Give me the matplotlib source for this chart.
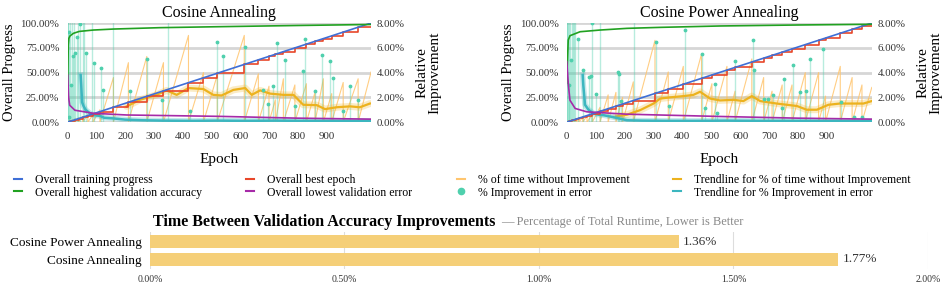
import matplotlib
matplotlib.use("Agg")
import matplotlib.pyplot as plt
from matplotlib.lines import Line2D
from matplotlib.ticker import FuncFormatter

plt.rcParams['font.family'] = ['Liberation Serif', 'DejaVu Serif']

n_epochs = 1055
progress_epochs = [0, n_epochs]
progress_pct = [0, 100]
epoch_ticks = [0, 100, 200, 300, 400, 500, 600, 700, 800, 900]

# ---- Cosine Annealing ----
ca_best_epochs = [0, 4, 9, 16, 26, 38, 52, 70, 88, 112, 159, 211, 275, 333, 420,
                  472, 520, 614, 663, 700, 722, 750, 790, 830, 860, 889, 918, 958, 1010]
ca_gap_peaks = [0.1, 0.15, 0.2, 0.3, 0.35, 0.45, 0.6, 0.6, 1.0, 3.6, 4.8, 5.3, 4.8, 7.0,
                4.0, 3.8, 7.0, 3.9, 2.9, 1.8, 3.5, 3.0, 3.1, 2.4, 3.5, 2.3, 3.2, 3.5, 4.05]
ca_acc_epochs = [0, 1, 2, 4, 8, 20, 40, 89, 159, 321, 530, 800, 1055]
ca_acc = [37, 60, 78, 84.5, 87, 89.6, 91.5, 92.9, 93.9, 95.3, 96.3, 97.5, 98.5]
ca_err_epochs = [0, 3, 7, 25, 89, 205, 530, 800, 1055]
ca_err = [47.5, 25, 17, 12, 8.9, 7.2, 5.8, 4.0, 3.0]
ca_gap_trend_epochs = [205, 251, 309, 344, 379, 420, 472, 506, 535, 576, 617, 640,
                       669, 704, 750, 785, 819, 866, 895, 935, 982, 1016, 1051]
ca_gap_trend = [1.27, 1.8, 2.2, 2.56, 2.2, 2.75, 2.67, 2.2, 2.15, 2.6, 2.75, 2.2,
                2.56, 2.3, 2.2, 2.2, 1.4, 1.37, 1.05, 1.2, 1.27, 1.2, 1.5]
ca_impr_epochs = [0, 2, 4, 6, 9, 11, 14, 17, 21, 24, 31, 36, 43, 52, 58, 64, 85, 92,
                  115, 124, 159, 217, 275, 329, 350, 425, 518, 539, 617, 680, 698, 715,
                  727, 756, 790, 819, 825, 860, 883, 912, 924, 958, 982, 1011]
ca_impr = [9.5, 9.5, 0.4, 7.3, 9.5, 3.0, 9.5, 5.3, 9.5, 5.6, 6.9, 9.5, 7.9, 9.5, 9.5,
           5.6, 9.5, 4.8, 4.4, 2.6, 9.5, 2.5, 5.1, 1.8, 9.5, 0.9, 6.5, 5.3, 6.1, 2.6,
           1.5, 2.9, 6.4, 5.0, 1.3, 4.1, 6.7, 2.5, 5.4, 4.9, 3.6, 0.9, 2.9, 1.8]
ca_impr_trend_epochs = [45, 47, 50, 55, 62, 78, 95, 112, 127, 159, 200, 260, 330, 420,
                        520, 620, 720, 820, 920, 1055]
ca_impr_trend = [3.8, 3.0, 1.6, 1.3, 1.0, 0.7, 0.55, 0.5, 0.35, 0.3, 0.2, 0.15, 0.12,
                 0.1, 0.12, 0.1, 0.12, 0.1, 0.1, 0.1]

# ---- Cosine Power Annealing ----
cpa_best_epochs = [0, 3, 7, 12, 18, 25, 33, 42, 55, 70, 88, 115, 143, 170, 193, 230,
                   305, 351, 403, 466, 502, 554, 582, 640, 681, 710, 745, 779, 825, 871,
                   895, 946, 987, 1021]
cpa_gap_peaks = [0.1, 0.1, 0.15, 0.2, 0.2, 0.25, 0.3, 0.4, 0.5, 0.6, 1.2, 2.2, 2.4, 2.0,
                 3.25, 6.6, 4.05, 4.5, 5.5, 3.1, 4.5, 2.5, 5.1, 3.6, 2.5, 3.0, 3.0, 4.0,
                 4.0, 2.1, 4.5, 3.6, 3.0, 2.8]
cpa_acc_epochs = [0, 2, 5, 11, 46, 115, 208, 323, 530, 800, 1055]
cpa_acc = [39, 60, 82.8, 87.2, 91.2, 92.9, 94.6, 95.6, 97, 98, 98.7]
cpa_err_epochs = [0, 6, 11, 29, 69, 208, 530, 800, 1055]
cpa_err = [61, 35.7, 22, 13.8, 10.4, 8.0, 5.7, 4.0, 3.0]
cpa_gap_trend_epochs = [170, 208, 254, 300, 323, 358, 404, 438, 461, 496, 530, 577,
                        611, 640, 669, 726, 796, 830, 865, 905, 945, 986, 1026, 1055]
cpa_gap_trend = [0.45, 0.6, 0.97, 1.5, 1.9, 2.0, 2.1, 2.2, 2.45, 1.9, 1.75, 1.8,
                 1.7, 2.1, 1.7, 1.5, 1.3, 1.0, 1.0, 1.4, 1.5, 1.5, 1.5, 1.7]
cpa_impr_epochs = [0, 2, 4, 6, 8, 11, 14, 17, 21, 25, 30, 40, 55, 77, 84, 88, 101, 115,
                   176, 181, 188, 233, 308, 352, 408, 468, 478, 512, 519, 582, 643, 649,
                   681, 696, 712, 745, 751, 782, 806, 828, 841, 887, 947, 993, 1022]
cpa_impr = [9.5, 9.5, 9.5, 3.0, 9.5, 9.5, 5.0, 9.5, 9.5, 9.5, 9.5, 6.7, 4.2, 3.65, 3.7,
            8.0, 2.26, 9.5, 4.05, 3.9, 1.7, 9.5, 6.5, 1.3, 7.4, 5.5, 1.1, 3.1, 0.7, 4.9,
            6.6, 4.2, 1.9, 1.9, 2.2, 1.1, 3.5, 4.6, 2.4, 2.5, 5.1, 5.9, 1.6, 0.4, 0.4]
cpa_impr_trend_epochs = [55, 57, 63, 75, 92, 110, 127, 161, 208, 260, 350, 450, 550,
                         650, 750, 850, 950, 1055]
cpa_impr_trend = [3.8, 3.0, 1.4, 1.0, 0.7, 0.6, 0.56, 0.4, 0.15, 0.12, 0.1, 0.1, 0.12,
                  0.1, 0.1, 0.1, 0.1, 0.1]

# ---- bar chart ----
bar_names = ['Cosine Annealing', 'Cosine Power Annealing']
bar_values = [1.77, 1.36]
bar_ticks = [0, 0.5, 1.0, 1.5, 2.0]

C_BLUE = '#3f6fd6'
C_RED = '#e8472a'
C_GREEN = '#21a121'
C_PURPLE = '#a62aa8'
C_SAW = '#ffc56e'
C_TREND = '#ecb21e'
C_DOT = '#4fd0ad'
C_TEAL = '#3cb6bf'
C_GRID = '#d6d6d6'


def sawtooth(resets, peaks, end):
    xs, ys = [], []
    stops = list(resets[1:]) + [end]
    for start, stop, peak in zip(resets, stops, peaks):
        xs += [start, stop]
        ys += [0, peak]
    return xs, ys


def draw_run(ax, title, best_epochs, gap_peaks, acc_epochs, acc, err_epochs, err,
             gap_trend_epochs, gap_trend, impr_epochs, impr, impr_trend_epochs,
             impr_trend):
    rax = ax.twinx()
    ax.set_zorder(rax.get_zorder() + 1)
    ax.patch.set_visible(False)

    # right axis: relative improvement
    rax.set_ylim(0, 8)
    rax.set_yticks([0, 2, 4, 6, 8])
    rax.yaxis.grid(True, color=C_GRID, lw=2)
    rax.set_axisbelow(True)
    rax.yaxis.set_major_formatter(FuncFormatter(lambda v, p: f'{v:.2f}%'))
    rax.tick_params(axis='y', length=0, labelsize=7.8, pad=4, labelcolor='#333333')
    rax.set_ylabel('Relative\nImprovement', fontsize=11, labelpad=8,
                   linespacing=1.0)

    xs, ys = sawtooth(best_epochs, gap_peaks, n_epochs)
    rax.plot(xs, ys, color=C_SAW, lw=0.8, alpha=0.85)
    rax.vlines(impr_epochs, 0, impr, color=C_DOT, lw=1.0, alpha=0.4)
    rax.scatter(impr_epochs, impr, s=3, color=C_DOT, zorder=3)
    rax.plot(gap_trend_epochs, gap_trend, color=C_TREND, lw=5, alpha=0.25,
             solid_capstyle='round')
    rax.plot(gap_trend_epochs, gap_trend, color=C_TREND, lw=1.6)
    rax.plot(impr_trend_epochs, impr_trend, color=C_TEAL, lw=4, alpha=0.3)
    rax.plot(impr_trend_epochs, impr_trend, color=C_TEAL, lw=1.8)

    # left axis: overall progress
    levels = [e / n_epochs * 100 for e in best_epochs]
    ax.step(list(best_epochs) + [n_epochs], levels + [levels[-1]], where='post',
            color=C_RED, lw=1.2)
    ax.plot(progress_epochs, progress_pct, color=C_BLUE, lw=1.2)
    ax.plot(acc_epochs, acc, color=C_GREEN, lw=1.2)
    ax.plot(err_epochs, err, color=C_PURPLE, lw=1.2)

    ax.set_ylim(0, 100)
    ax.set_xlim(0, n_epochs)
    rax.set_xlim(0, n_epochs)
    ax.set_yticks([0, 25, 50, 75, 100])
    ax.yaxis.set_major_formatter(FuncFormatter(lambda v, p: f'{v:.2f}%'))
    ax.set_xticks(epoch_ticks)
    ax.tick_params(axis='both', length=0, labelsize=7.8, labelcolor='#333333')
    ax.tick_params(axis='y', pad=6)
    ax.tick_params(axis='x', pad=7)
    ax.set_ylabel('Overall Progress', fontsize=10.5, labelpad=3)
    ax.set_xlabel('Epoch', fontsize=11, labelpad=9)
    ax.set_title(title, fontsize=11.5, pad=4)
    for a in (ax, rax):
        for s in a.spines.values():
            s.set_visible(False)


fig = plt.figure(figsize=(9.51, 2.84), dpi=100)
ax_ca = fig.add_axes([0.0712, 0.570, 0.319, 0.349])
ax_cpa = fig.add_axes([0.596, 0.570, 0.3207, 0.349])
bar_ax = fig.add_axes([0.1577, 0.053, 0.818, 0.13])

draw_run(ax_ca, 'Cosine Annealing', ca_best_epochs, ca_gap_peaks, ca_acc_epochs,
         ca_acc, ca_err_epochs, ca_err, ca_gap_trend_epochs, ca_gap_trend,
         ca_impr_epochs, ca_impr, ca_impr_trend_epochs, ca_impr_trend)
draw_run(ax_cpa, 'Cosine Power Annealing', cpa_best_epochs, cpa_gap_peaks,
         cpa_acc_epochs, cpa_acc, cpa_err_epochs, cpa_err, cpa_gap_trend_epochs,
         cpa_gap_trend, cpa_impr_epochs, cpa_impr, cpa_impr_trend_epochs,
         cpa_impr_trend)

# legend, four columns of two rows
columns = [
    [('Overall training progress', Line2D([], [], color=C_BLUE, lw=1.5)),
     ('Overall highest validation accuracy', Line2D([], [], color=C_GREEN, lw=1.5))],
    [('Overall best epoch', Line2D([], [], color=C_RED, lw=1.5)),
     ('Overall lowest validation error', Line2D([], [], color=C_PURPLE, lw=1.5))],
    [('% of time without Improvement', Line2D([], [], color=C_SAW, lw=1.5)),
     ('% Improvement in error', Line2D([], [], color=C_DOT, marker='o', ls='none',
                                       markersize=4.5))],
    [('Trendline for % of time without Improvement', Line2D([], [], color=C_TREND, lw=1.5)),
     ('Trendline for % Improvement in error', Line2D([], [], color=C_TEAL, lw=1.5))],
]
col_x = [14, 246, 457, 673]
for x, col in zip(col_x, columns):
    fig.legend([h for _, h in col], [t for t, _ in col], loc='upper left',
               bbox_to_anchor=(x / 951, 1 - 174 / 284), frameon=False,
               fontsize=8.5, handlelength=0.7, handletextpad=1.1,
               labelspacing=0.05, borderpad=0, borderaxespad=0)

# bar chart
bar_ax.barh(range(len(bar_names)), bar_values, height=0.72, color='#f5cf78')
for i, v in enumerate(bar_values):
    bar_ax.text(v + 0.01, i, f'{v:.2f}%', va='center', ha='left', fontsize=9.5,
                color='#333333')
bar_ax.set_xlim(0, 2.0)
bar_ax.set_ylim(-0.55, 1.55)
bar_ax.set_xticks(bar_ticks)
bar_ax.xaxis.set_major_formatter(FuncFormatter(lambda v, p: f'{v:.2f}%'))
bar_ax.set_yticks(range(len(bar_names)))
bar_ax.set_yticklabels(bar_names)
bar_ax.tick_params(axis='x', length=0, labelsize=7, pad=4, labelcolor='#333333')
bar_ax.tick_params(axis='y', length=0, labelsize=9.5, pad=6)
bar_ax.xaxis.grid(True, color='#dddddd', lw=0.8)
bar_ax.set_axisbelow(True)
for s in bar_ax.spines.values():
    s.set_visible(False)

bar_title = fig.text(153 / 951, 1 - 222 / 284,
                     'Time Between Validation Accuracy Improvements',
                     fontsize=11.5, fontweight='bold', va='center', ha='left')
bar_ax.annotate('— Percentage of Total Runtime, Lower is Better', xy=(1, 0.5),
                xycoords=bar_title, xytext=(4, 0), textcoords='offset points',
                va='center', ha='left', fontsize=9, color='#888888',
                annotation_clip=False)

fig.savefig('out.png', dpi=100)
